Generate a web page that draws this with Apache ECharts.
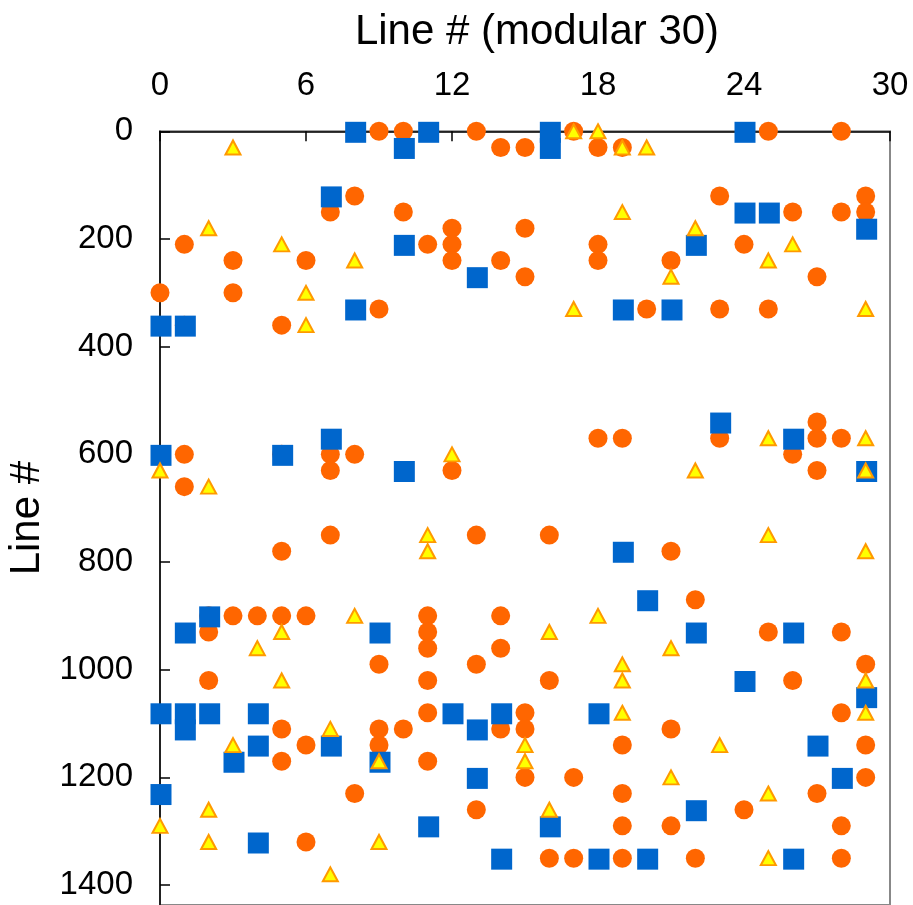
<!DOCTYPE html>
<html>
<head>
<meta charset="utf-8">
<script src="https://cdn.jsdelivr.net/npm/echarts@6/dist/echarts.min.js"></script>
<style>
html,body{margin:0;padding:0;background:#fff;}
#chart{width:913px;height:905px;}
</style>
</head>
<body>
<div id="chart"></div>
<script>
// [x (line mod 30), y (line #)]
const circles = [
  [9,0],[10,0],[13,0],[17,0],[25,0],[28,0],
  [14,30],[15,30],[18,30],[19,30],
  [8,120],[23,120],[29,120],
  [7,150],[10,150],[26,150],[28,150],[29,150],
  [12,180],[15,180],
  [1,210],[11,210],[12,210],[18,210],[24,210],
  [3,240],[6,240],[12,240],[14,240],[18,240],[21,240],
  [15,270],[27,270],
  [0,300],[3,300],
  [9,330],[20,330],[23,330],[25,330],
  [1,360],[5,360],
  [27,540],
  [18,570],[19,570],[23,570],[27,570],[28,570],
  [1,600],[5,600],[7,600],[8,600],[26,600],
  [7,630],[12,630],[27,630],
  [1,660],
  [7,750],[13,750],[16,750],
  [5,780],[21,780],
  [22,870],
  [2,900],[3,900],[4,900],[5,900],[6,900],[11,900],[14,900],
  [2,930],[11,930],[25,930],[28,930],
  [11,960],[14,960],
  [9,990],[13,990],[29,990],
  [2,1020],[11,1020],[16,1020],[26,1020],
  [11,1080],[15,1080],[28,1080],
  [5,1110],[9,1110],[10,1110],[14,1110],[15,1110],[21,1110],
  [6,1140],[9,1140],[19,1140],[29,1140],
  [5,1170],[11,1170],
  [15,1200],[17,1200],[29,1200],
  [8,1230],[19,1230],[27,1230],
  [13,1260],[24,1260],
  [19,1290],[21,1290],[28,1290],
  [6,1320],
  [16,1350],[17,1350],[19,1350],[22,1350],[28,1350]
];
const squares = [
  [8,0],[11,0],[16,0],[24,0],[10,30],[16,30],[7,120],[24,150],[25,150],
  [29,180],[10,210],[22,210],[13,270],[8,330],[19,330],[21,330],[0,360],[1,360],
  [23,540],[7,570],[26,570],[0,600],[5,600],[10,630],[29,630],[19,780],
  [20,870],[2,900],[1,930],[9,930],[22,930],[26,930],[24,1020],[29,1050],
  [0,1080],[1,1080],[2,1080],[4,1080],[12,1080],[14,1080],[18,1080],
  [1,1110],[13,1110],[4,1140],[7,1140],[27,1140],[3,1170],[9,1170],
  [13,1200],[28,1200],[0,1230],[22,1260],[11,1290],[16,1290],[4,1320],
  [14,1350],[18,1350],[20,1350],[26,1350]
];
const triangles = [
  [17,0],[18,0],[3,30],[19,30],[20,30],[19,150],[2,180],[22,180],
  [5,210],[26,210],[8,240],[25,240],[21,270],[6,300],[17,330],[29,330],[6,360],
  [25,570],[29,570],[12,600],[0,630],[22,630],[29,630],[2,660],
  [11,750],[25,750],[11,780],[29,780],[8,900],[18,900],[5,930],[16,930],
  [4,960],[21,960],[19,990],[5,1020],[19,1020],[29,1020],[19,1080],[29,1080],
  [7,1110],[3,1140],[15,1140],[23,1140],[9,1170],[15,1170],[21,1200],
  [25,1230],[2,1260],[16,1260],[0,1290],[2,1320],[9,1320],[25,1350],[7,1380]
];
const xTitle = 'Line # (modular 30)';
const yTitle = 'Line #';

const chart = echarts.init(document.getElementById('chart'), null, {renderer:'canvas'});
const font = '"Liberation Sans", Arial, Helvetica, sans-serif';
chart.setOption({
  animation: false,
  backgroundColor: '#fff',
  grid: {
    left: 160, right: 23, top: 131.3, bottom: 0,
    containLabel: false, outerBoundsMode: 'none',
    show: true, borderColor: '#888', borderWidth: 2, backgroundColor: 'transparent'
  },
  xAxis: {
    type: 'value', position: 'top', min: 0, max: 30, interval: 6,
    name: xTitle, nameLocation: 'middle', nameGap: 78,
    nameTextStyle: {fontSize: 42, color: '#000', fontFamily: font, padding: [0,0,0,24]},
    axisLine: {show: true, lineStyle: {color: '#000', width: 1.5}},
    axisTick: {show: true, inside: true, length: 10, lineStyle: {color: '#000', width: 1.5}},
    axisLabel: {fontSize: 33, color: '#000', fontFamily: font, margin: 29},
    splitLine: {show: false}
  },
  yAxis: {
    type: 'value', inverse: true, min: 0, max: 1437, interval: 200,
    name: yTitle, nameLocation: 'middle', nameGap: 98, nameRotate: 90,
    nameTextStyle: {fontSize: 42, color: '#000', fontFamily: font},
    axisLine: {show: true, lineStyle: {color: '#000', width: 1.5}},
    axisTick: {show: true, inside: true, length: 10, lineStyle: {color: '#000', width: 1.5}},
    axisLabel: {fontSize: 33, color: '#000', fontFamily: font, margin: 27, showMaxLabel: false,
      padding: [5, 0, 0, 0],
      formatter: function (v) { return String(v); }},
    splitLine: {show: false}
  },
  series: [
    {type: 'scatter', name: 'circles', data: circles, symbol: 'circle', symbolSize: 19,
     itemStyle: {color: '#ff6600', opacity: 1}},
    {type: 'scatter', name: 'squares', data: squares, symbol: 'rect', symbolSize: 21,
     symbolOffset: [1, 1], itemStyle: {color: '#0066cc', opacity: 1}},
    {type: 'scatter', name: 'triangles', data: triangles, symbol: 'triangle', symbolSize: [15, 14],
     itemStyle: {color: '#ffff00', borderColor: '#ff9900', borderWidth: 2, opacity: 1}}
  ]
});
</script>
</body>
</html>
